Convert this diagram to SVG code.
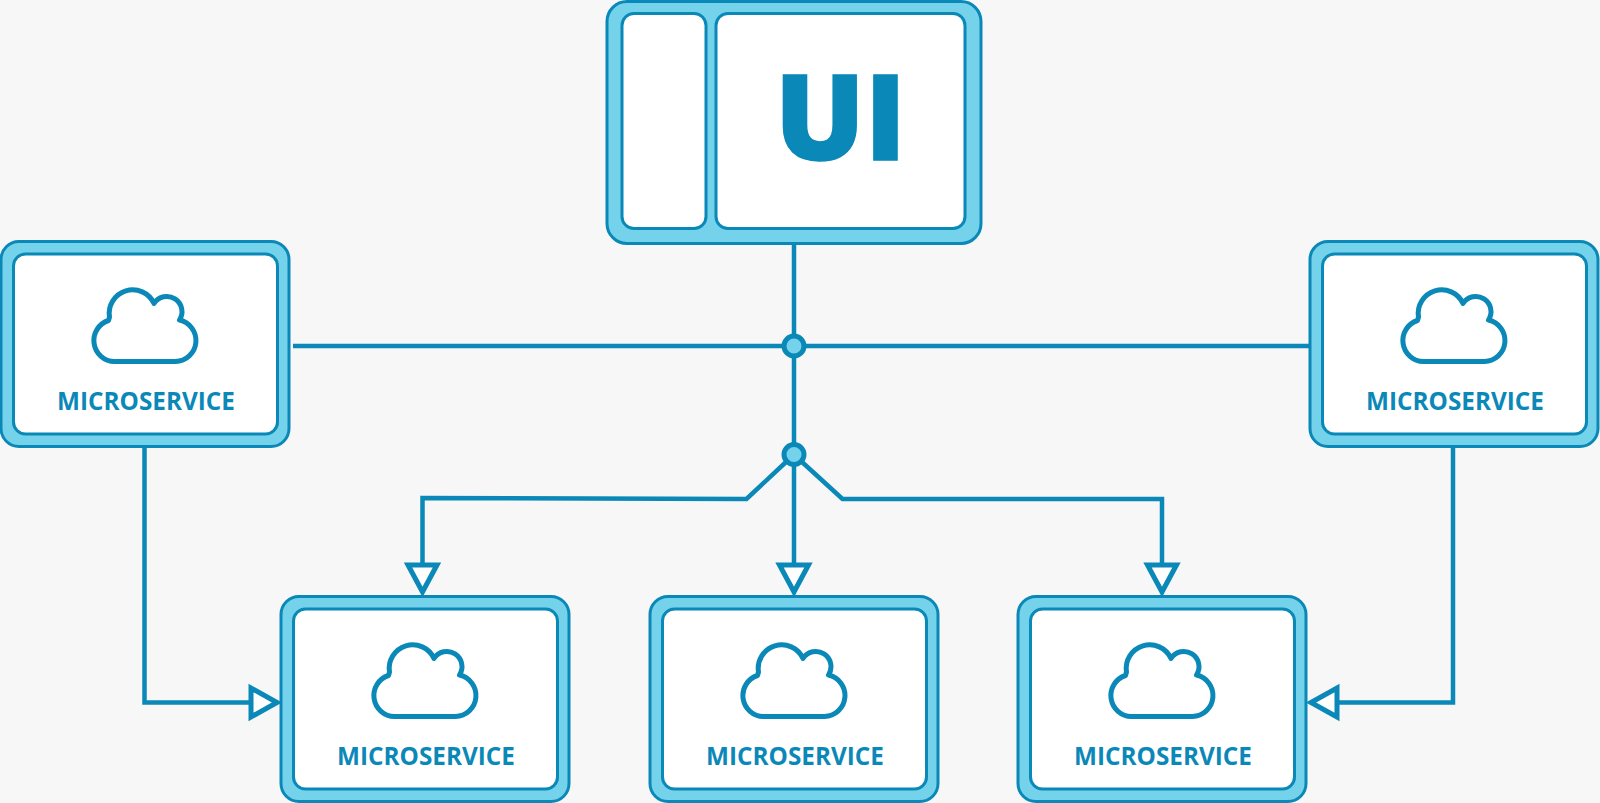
<svg xmlns="http://www.w3.org/2000/svg" width="1600" height="803" viewBox="0 0 1600 803">
<style>
.outer{fill:#74d3ea;stroke:#0a88b8;stroke-width:3}
.inner{fill:#fff;stroke:#0a88b8;stroke-width:3}
.cloud{fill:none;stroke:#0a88b8;stroke-width:5;stroke-linejoin:round}
.lbl{font-family:"Open Sans","Liberation Sans",sans-serif;font-weight:700;font-size:24.300px;fill:#0a88b8;text-anchor:middle}
.ui{font-family:"Open Sans","Liberation Sans",sans-serif;font-weight:800;font-size:119px;fill:#0a88b8;stroke:#0a88b8;stroke-width:1.500;text-anchor:middle}
.wire{fill:none;stroke:#0a88b8;stroke-width:4.500}
.head{fill:#fff;stroke:#0a88b8;stroke-width:5}
.dot{fill:#74d3ea;stroke:#0a88b8;stroke-width:5}
</style>
<defs>
<g id="ms">
<rect class="outer" x="1" y="0.500" width="288" height="205" rx="18"/>
<rect class="inner" x="13.500" y="13" width="264" height="180" rx="12"/>
<path class="cloud" d="M109.500 76 A23.500 23.500 0 0 1 154 62.400 A14 14 0 0 1 179.500 79 A21 21 0 0 1 175.500 120.500 H114.500 A21 21 0 0 1 108.500 79.500 Z"/>
<text class="lbl" x="146" y="169">MICROSERVICE</text>
</g>
</defs>
<rect width="1600" height="803" fill="#f7f7f7"/>
<g id="connectors">
<path class="wire" d="M794 244V570"/>
<path class="wire" d="M293 346H1309"/>
<path class="wire" d="M786 462L746.500 499L422.500 498V566"/>
<path class="wire" d="M802 462L842.500 499H1162V566"/>
<path class="wire" d="M144.500 446V702.500H252"/>
<path class="wire" d="M1453 446V702.500H1336"/>
<path class="head" d="M408 565H437L422.500 592Z"/>
<path class="head" d="M779.500 565H808.500L794 592Z"/>
<path class="head" d="M1147.500 565H1176.500L1162 592Z"/>
<path class="head" d="M251 688V717L277 702.500Z"/>
<path class="head" d="M1337 688V717L1311 702.500Z"/>
<circle class="dot" cx="794" cy="346" r="10"/>
<circle class="dot" cx="794" cy="454.500" r="10"/>
</g>
<g id="ui">
<rect class="outer" x="607" y="1.500" width="374" height="242" rx="20"/>
<rect class="inner" x="622" y="13.500" width="84" height="215" rx="12"/>
<rect class="inner" x="716" y="13.500" width="249" height="215" rx="12"/>
<text class="ui" x="840.500" y="160">UI</text>
</g>
<use id="ms-left" href="#ms" x="0" y="241"/>
<use id="ms-right" href="#ms" x="1309" y="241"/>
<use id="ms-bottom-1" href="#ms" x="280" y="596"/>
<use id="ms-bottom-2" href="#ms" x="649" y="596"/>
<use id="ms-bottom-3" href="#ms" x="1017" y="596"/>
</svg>
